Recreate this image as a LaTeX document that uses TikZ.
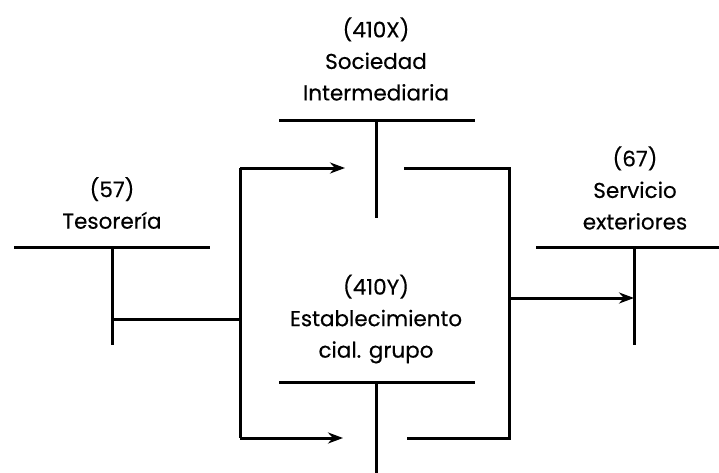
\documentclass[tikz,border=0pt]{standalone}
\usepackage{fontspec}
\setmainfont{Poppins}[Numbers=Lining,FakeBold=0.4]
\usetikzlibrary{arrows.meta}
\tikzset{
  acct/.style={line width=3pt},
  conn/.style={line width=3pt},
  flow/.style={line width=3pt,-{Stealth[length=15pt,width=11pt]}},
  lbl/.style={align=center,inner sep=0pt,font=\fontsize{21.5}{31.5}\selectfont}
}
\begin{document}
\begin{tikzpicture}[x=1pt,y=-1pt]
\useasboundingbox (0,0) rectangle (719,473);
% labels
\node[lbl] (lX) at (376,59) {(410X)\\Sociedad\\Intermediaria};
\node[lbl] (l57) at (112,203) {(57)\\Tesorería};
\node[lbl] (l67) at (635,188) {(67)\\Servicio\\exteriores};
\node[lbl] (lY) at (376,319) {(410Y)\\Establecimiento\\cial. grupo};
% T accounts
\coordinate (tesL) at (14,247);  \coordinate (tesR) at (210,247);
\coordinate (tesT) at (112,247); \coordinate (tesB) at (112,345);
\coordinate (socL) at (279,121); \coordinate (socR) at (475,121);
\coordinate (socT) at (376,121); \coordinate (socB) at (376,218);
\coordinate (serL) at (536,247); \coordinate (serR) at (719,247);
\coordinate (serT) at (634,247); \coordinate (serB) at (634,345);
\coordinate (estL) at (279,382); \coordinate (estR) at (475,382);
\coordinate (estT) at (376,382); \coordinate (estB) at (376,473);
\draw[acct] (tesL) -- (tesR); \draw[acct] (tesT) -- (tesB);
\draw[acct] (socL) -- (socR); \draw[acct] (socT) -- (socB);
\draw[acct] (serL) -- (serR); \draw[acct] (serT) -- (serB);
\draw[acct] (estL) -- (estR); \draw[acct] (estT) -- (estB);
% connectors
\coordinate (tesC) at (112,319);
\coordinate (bj) at (240,319);
\coordinate (bTop) at (240,168);
\coordinate (bBot) at (240,438);
\coordinate (aTop) at (345,168);
\coordinate (aBot) at (343,438);
\coordinate (rTopS) at (404,168);
\coordinate (rTop) at (509,168);
\coordinate (rBot) at (509,438);
\coordinate (rBotE) at (407,438);
\coordinate (rMid) at (509,298);
\coordinate (serC) at (634,298);
\draw[conn] (tesC) -- (bj);
\draw[conn] (bTop) -- (bBot);
\draw[flow] (bTop) -- (aTop);
\draw[flow] (bBot) -- (aBot);
\draw[conn,line join=miter] (rTopS) -- (rTop) -- (rBot) -- (rBotE);
\draw[flow] (rMid) -- (serC);
\end{tikzpicture}
\end{document}
